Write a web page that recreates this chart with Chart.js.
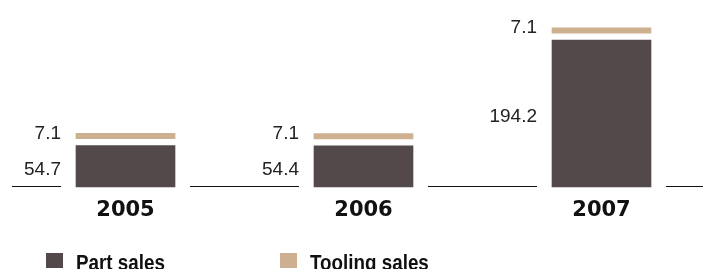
<!DOCTYPE html>
<html>
<head>
<meta charset="utf-8">
<script src="https://cdn.jsdelivr.net/npm/chart.js@4.4.1/dist/chart.umd.min.js"></script>
<style>
  html, body { margin: 0; padding: 0; background: #fff; }
  #wrap { width: 703px; height: 269px; }
</style>
</head>
<body>
<div id="wrap"><canvas id="myChart"></canvas></div>
<script>
const years = ['2005', '2006', '2007'];
const partSales = [54.7, 54.4, 194.2];
const toolingSales = [7.1, 7.1, 7.1];
const seriesNames = ['Part sales', 'Tooling sales'];

const partColor = '#54494a';
const toolingColor = '#cdb08f';
const GAP = 7;    // white space between part bar and tooling bar
const SIDE = 15;  // space between a bar and the base line / value labels
const numFont = '19px "Liberation Sans", Arial, sans-serif';
const legendFont = 'bold 22px "Liberation Sans", Arial, sans-serif';

// lift the tooling bars a bit so there is a gap above the part bars
const liftTooling = {
  id: 'liftTooling',
  afterDatasetsUpdate(chart) {
    chart.getDatasetMeta(1).data.forEach(el => {
      el.y -= GAP;
      el.base -= GAP;
    });
  }
};

// base line pieces between the bars
const baseLine = {
  id: 'baseLine',
  beforeDatasetsDraw(chart) {
    const ctx = chart.ctx;
    const y = Math.floor(chart.scales.y.getPixelForValue(0)) - 0.5;
    const bars = chart.getDatasetMeta(0).data;
    ctx.save();
    ctx.strokeStyle = '#111';
    ctx.lineWidth = 1;
    let start = 12;
    const seg = (a, b) => { ctx.beginPath(); ctx.moveTo(a, y); ctx.lineTo(b, y); ctx.stroke(); };
    bars.forEach(b => {
      seg(start, b.x - b.width / 2 - SIDE);
      start = b.x + b.width / 2 + SIDE;
    });
    seg(start, chart.width);
    ctx.restore();
  }
};

// value labels to the left of the bars
const valueLabels = {
  id: 'valueLabels',
  afterDatasetsDraw(chart) {
    const ctx = chart.ctx;
    ctx.save();
    ctx.font = numFont;
    ctx.fillStyle = '#222';
    ctx.textAlign = 'right';
    chart.data.datasets.forEach((ds, i) => {
      chart.getDatasetMeta(i).data.forEach((el, j) => {
        const x = el.x - el.width / 2 - SIDE;
        if (i === 0) {
          ctx.textBaseline = 'middle';
          ctx.fillText(ds.data[j].toFixed(1), x, (el.y + el.base) / 2 + 3);
        } else {
          ctx.textBaseline = 'alphabetic';
          ctx.fillText(ds.data[j].toFixed(1), x, el.base);
        }
      });
    });
    ctx.restore();
  }
};

// legend along the bottom (text squeezed to look condensed)
const bottomLegend = {
  id: 'bottomLegend',
  afterDraw(chart) {
    const ctx = chart.ctx;
    const spots = [46, 280];
    const squeeze = 0.855;
    ctx.save();
    ctx.font = legendFont;
    ctx.textBaseline = 'alphabetic';
    ctx.textAlign = 'left';
    chart.data.datasets.forEach((ds, i) => {
      ctx.fillStyle = ds.backgroundColor;
      ctx.fillRect(spots[i], 253, 17, 15);
      ctx.fillStyle = '#111';
      ctx.save();
      ctx.translate(spots[i] + 30, 270);
      ctx.scale(squeeze, 1);
      ctx.fillText(ds.label, 0, 0);
      ctx.restore();
    });
    ctx.restore();
  }
};

new Chart(document.getElementById('myChart'), {
  type: 'bar',
  data: {
    labels: years,
    datasets: [
      { label: seriesNames[0], data: partSales, backgroundColor: partColor, barThickness: 99, clip: false },
      { label: seriesNames[1], data: toolingSales, backgroundColor: toolingColor, barThickness: 99, clip: false }
    ]
  },
  options: {
    responsive: true,
    maintainAspectRatio: false,
    animation: false,
    layout: { padding: { left: 125.5, right: 101.5, top: 10, bottom: 32 } },
    scales: {
      x: {
        stacked: true,
        offset: false,
        grid: { display: false, drawTicks: false },
        border: { display: false },
        afterFit(scale) { scale.height = 50; },
        ticks: {
          color: '#111',
          padding: 11,
          maxRotation: 0,
          font: { family: '"DejaVu Sans", sans-serif', size: 21, weight: 'bold' }
        }
      },
      y: {
        stacked: true,
        display: false,
        min: 0,
        max: 234
      }
    },
    plugins: {
      legend: { display: false },
      tooltip: { enabled: false }
    }
  },
  plugins: [liftTooling, baseLine, valueLabels, bottomLegend]
});
</script>
</body>
</html>
